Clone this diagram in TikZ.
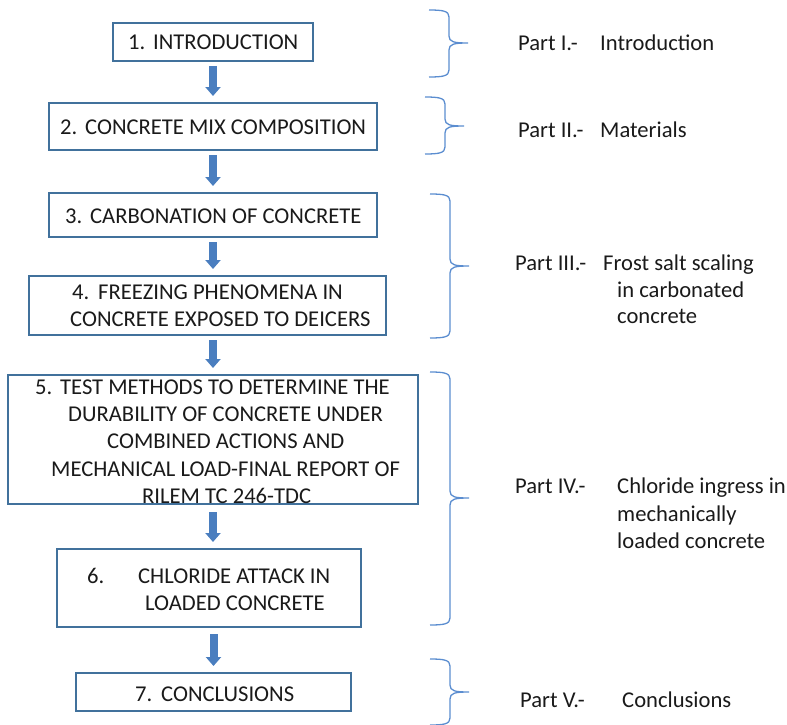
\documentclass[tikz,border=0pt]{standalone}
\usepackage{fontspec}
\setmainfont{Carlito}
\usetikzlibrary{arrows.meta}
\definecolor{boxblue}{HTML}{41719C}
\definecolor{arrblue}{HTML}{4A7EBF}
\definecolor{brblue}{HTML}{5B8DD0}
\definecolor{txtcol}{HTML}{1A1A1A}
\tikzset{
  stepbox/.style={draw=boxblue, line width=2pt, inner sep=0pt, fill=white},
  txt/.style={anchor=base west, inner sep=0pt, font=\fontsize{22.6}{27}\selectfont, text=txtcol},
  blkarrow/.style={draw=arrblue, line width=8pt, -{Triangle[length=9pt,width=15pt]}},
  bracepath/.style={draw=brblue, line width=1.3pt}
}
\newcommand{\partbrace}[4]{%
  \draw[bracepath] (#1,#2) .. controls (#1+14,#2) and (#1+20,#2+1) .. (#1+20,#2+7)
    -- (#1+20,#3-7) .. controls (#1+20,#3-1) and (#1+25,#3) .. (#1+39,#3)
    .. controls (#1+25,#3) and (#1+20,#3+1) .. (#1+20,#3+7)
    -- (#1+20,#4-7) .. controls (#1+20,#4-1) and (#1+14,#4) .. (#1,#4);%
}
\begin{document}
\begin{tikzpicture}[x=1pt,y=-1pt]
\useasboundingbox (0,0) rectangle (787,725);
\clip (0,0) rectangle (787,725);

% boxes
\node[stepbox, minimum width=200pt, minimum height=38pt] (b1) at (213,42) {};
\node[stepbox, minimum width=328pt, minimum height=47pt] (b2) at (213,126.5) {};
\node[stepbox, minimum width=328pt, minimum height=44pt] (b3) at (213,215) {};
\node[stepbox, minimum width=357pt, minimum height=59pt] (b4) at (207.5,305.5) {};
\node[stepbox, minimum width=410pt, minimum height=129pt] (b5) at (213,439.5) {};
\node[stepbox, minimum width=304pt, minimum height=78pt] (b6) at (209,588) {};
\node[stepbox, minimum width=275pt, minimum height=38pt] (b7) at (213.5,692) {};

% box texts
\node[txt] (t1) at (128,50) {\makebox[25pt][l]{1.}INTRODUCTION};
\node[txt] (t2) at (60,134) {\makebox[25pt][l]{2.}CONCRETE MIX COMPOSITION};
\node[txt] (t3) at (65,223) {\makebox[25pt][l]{3.}CARBONATION OF CONCRETE};
\node[txt] (t4a) at (72,299) {\makebox[26pt][l]{4.}FREEZING PHENOMENA IN};
\node[txt] (t4b) at (70,326) {CONCRETE EXPOSED TO DEICERS};
\node[txt] (t5a) at (35,394) {\makebox[25pt][l]{5.}TEST METHODS TO DETERMINE THE};
\node[txt] (t5b) at (68,421) {DURABILITY OF CONCRETE UNDER};
\node[txt] (t5c) at (107,448) {COMBINED ACTIONS AND};
\node[txt] (t5d) at (51,476) {MECHANICAL LOAD-FINAL REPORT OF};
\node[txt] (t5e) at (142,503) {RILEM TC 246-TDC};
\node[txt] (t6a) at (87,583) {\makebox[51pt][l]{6.}CHLORIDE ATTACK IN};
\node[txt] (t6b) at (145,610) {LOADED CONCRETE};
\node[txt] (t7) at (135,701) {\makebox[26pt][l]{7.}CONCLUSIONS};

% arrows
\draw[blkarrow] ([yshift=-4pt]b1.south) -- ([yshift=6pt]b2.north -| b1.south);
\draw[blkarrow] ([yshift=-4pt]b2.south) -- ([yshift=6pt]b3.north -| b2.south);
\draw[blkarrow] ([yshift=-4pt]b3.south) -- ([yshift=6pt]b4.north -| b3.south);
\draw[blkarrow] ([yshift=-4pt]b4.south -| b5.north) -- ([yshift=6pt]b5.north);
\draw[blkarrow] ([yshift=-7pt]b5.south) -- ([yshift=6pt]b6.north -| b5.south);
\draw[blkarrow] ([yshift=-6pt]b6.south -| b7.north) -- ([yshift=6pt]b7.north);

% braces
\partbrace{429}{10}{43}{77}
\partbrace{425}{97}{126}{154}
\partbrace{430}{194}{266}{338}
\partbrace{430}{372}{498}{625}
\partbrace{430}{659}{692}{725}

% right texts
\node[txt] (p1) at (518,51) {Part I.-};
\node[txt] (p1t) at (600,51) {Introduction};
\node[txt] (p2) at (518,137) {Part II.-};
\node[txt] (p2t) at (600,137) {Materials};
\node[txt] (p3) at (515,270) {Part III.-};
\node[txt] (p3a) at (603,270) {Frost salt scaling};
\node[txt] (p3b) at (617,297) {in carbonated};
\node[txt] (p3c) at (617,323) {concrete};
\node[txt] (p4) at (515,493) {Part IV.-};
\node[txt] (p4a) at (617,493) {Chloride ingress in};
\node[txt] (p4b) at (617,521) {mechanically};
\node[txt] (p4c) at (617,548) {loaded concrete};
\node[txt] (p5) at (520,707) {Part V.-};
\node[txt] (p5t) at (622,707) {Conclusions};
\end{tikzpicture}
\end{document}
